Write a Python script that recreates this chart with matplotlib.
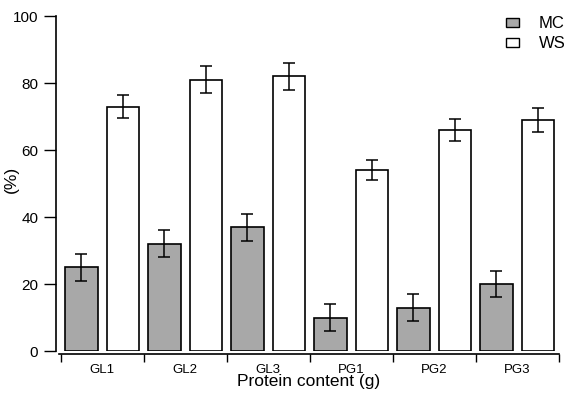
import numpy as np
from matplotlib import pyplot as plt
from matplotlib.patches import Patch

groups = ["GL1", "GL2", "GL3", "PG1", "PG2", "PG3"]
mc = [25, 32, 37, 10, 13, 20]
mc_err = [4, 4, 4, 4, 4, 4]
ws = [73, 81, 82, 54, 66, 69]
ws_err = [3.5, 4, 4, 3, 3.3, 3.5]

plt.rcParams['font.family'] = ['Liberation Sans', 'DejaVu Sans']

fig = plt.figure(figsize=(5.69, 3.94), dpi=100)
ax = fig.add_axes([0.1037, 0.109, 0.878, 0.850])

x = np.arange(len(groups))
w = 0.39
ax.bar(x + 0.25, mc, w, color="#a8a8a8", edgecolor="black", linewidth=1.2, zorder=2)
ax.bar(x + 0.75, ws, w, color="white", edgecolor="black", linewidth=1.2, zorder=2)
ax.errorbar(x + 0.25, mc, yerr=mc_err, fmt="none", ecolor="black", elinewidth=1.1,
            capsize=4, capthick=1.1, zorder=3)
ax.errorbar(x + 0.75, ws, yerr=ws_err, fmt="none", ecolor="black", elinewidth=1.1,
            capsize=4, capthick=1.1, zorder=3)

ax.set_xlim(-0.02, len(groups))
ax.set_ylim(0, 100)
ax.set_yticks([0, 20, 40, 60, 80, 100])
ax.set_xticks(np.arange(len(groups) + 1))
ax.set_xticklabels([])
ax.set_xticks(x + 0.5, minor=True)
ax.set_xticklabels(groups, minor=True)
ax.tick_params(axis="x", which="minor", length=0, pad=7, labelsize=9.5)
ax.tick_params(axis="x", which="major", length=6, width=1, direction="out")
ax.tick_params(axis="y", length=9, width=1, labelsize=11, pad=4)

ax.spines["top"].set_visible(False)
ax.spines["right"].set_visible(False)
ax.spines["bottom"].set_position(("outward", 2))
ax.spines["left"].set_position(("outward", 2))
ax.spines["left"].set_linewidth(1.2)
ax.spines["bottom"].set_linewidth(1.2)

ax.set_xlabel("Protein content (g)", fontsize=12.5, labelpad=-1)
ax.set_ylabel("(%)", fontsize=12.5)
ax.yaxis.set_label_coords(-0.08, 0.513)

handles = [Patch(facecolor="#a8a8a8", edgecolor="black", label="MC"),
           Patch(facecolor="white", edgecolor="black", label="WS")]
fig.legend(handles=handles, loc="upper right", frameon=False, fontsize=12,
           handlelength=0.8, handleheight=0.45, handletextpad=1.2, labelspacing=0.3,
           bbox_to_anchor=(1.0, 0.967), borderaxespad=0, borderpad=0.2)

fig.savefig("out.png", dpi=100)
